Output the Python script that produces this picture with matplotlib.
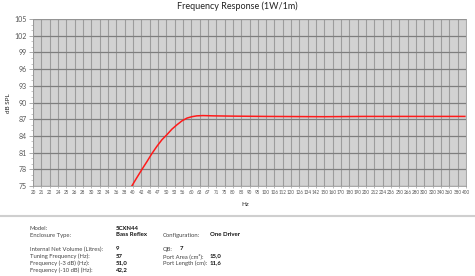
import numpy as np
import matplotlib
matplotlib.use("Agg")
import matplotlib.pyplot as plt
from matplotlib.ticker import FixedLocator, NullFormatter

plt.rcParams['font.family'] = ['Lato', 'DejaVu Sans']

# x tick labels (1/12 octave steps)
x_labels = ["20", "21", "22", "24", "25", "26", "28", "30", "32", "34",
            "36", "38", "40", "42", "45", "47", "50", "53", "56", "60",
            "63", "67", "71", "75", "80", "85", "90", "95", "100", "106",
            "112", "120", "126", "134", "142", "150", "160", "170", "180", "190",
            "200", "212", "224", "236", "250", "266", "280", "300", "320", "340",
            "360", "380", "400"]
y_ticks = [75, 78, 81, 84, 87, 90, 93, 96, 99, 102, 105]

# response curve (Hz, dB SPL)
freq = [38.0, 39.7, 41.1, 42.6, 44.1, 45.6, 47.2, 48.9, 50.6, 52.4, 54.3,
        56.2, 58.2, 60.2, 62.3, 65.0, 70.0, 80.0, 100.0, 150.0, 200.0, 280.0, 400.0]
spl = [73.4, 75.0, 76.5, 78.0, 79.4, 80.8, 82.1, 83.3, 84.2, 85.2, 86.0,
       86.7, 87.2, 87.45, 87.6, 87.65, 87.6, 87.55, 87.5, 87.45, 87.5, 87.5, 87.5]

# info block
info_left = [("Model:", "5CXN44"), ("Enclosure Type:", "Bass Reflex"), None,
             ("Internal Net Volume (Litres):", "9"),
             ("Tuning Frequency (Hz):", "57"),
             ("Frequency (-3 dB) (Hz):", "51,0"),
             ("Frequency (-10 dB) (Hz):", "42,2")]
info_right = [None, ("Configuration:", "One Driver"), None,
              ("QB:", "7"), ("Port Area (cm²):", "15,0"),
              ("Port Length (cm):", "11,6")]

W, H = 475, 276
fig = plt.figure(figsize=(W / 100, H / 100), dpi=100)
fig.patch.set_facecolor("white")
ax = fig.add_axes([33 / W, 1 - 186 / H, (466 - 33) / W, (186 - 19) / H])
ax.set_facecolor("#d2d2d2")

ax.set_xscale("log")
tick_pos = [20 * 2 ** (k / 12) for k in range(len(x_labels))]
ax.set_xlim(tick_pos[0], tick_pos[-1])
ax.set_ylim(75, 105)
ax.xaxis.set_major_locator(FixedLocator(tick_pos))
ax.xaxis.set_minor_locator(FixedLocator([]))
ax.xaxis.set_minor_formatter(NullFormatter())
ax.set_xticklabels(x_labels, fontsize=3.3, color="#555555")
ax.set_yticks(y_ticks)
ax.set_yticklabels([str(v) for v in y_ticks], fontsize=5, color="#555555")
ax.yaxis.set_minor_locator(FixedLocator(np.arange(75, 105.1, 1)))
ax.tick_params(axis="x", length=1.5, width=0.4, color="#888888", pad=1.5)
ax.tick_params(axis="y", which="major", length=3, width=0.5, color="#888888", pad=1.5)
ax.tick_params(axis="y", which="minor", length=1.5, width=0.4, color="#999999")

for xp in tick_pos:
    ax.axvline(xp, color="#9c9c9c", lw=0.8, zorder=1)
for yv in y_ticks:
    ax.axhline(yv, color="#7e7e7e", lw=0.9, zorder=1)
for s in ax.spines.values():
    s.set_color("#999999")
    s.set_linewidth(0.6)

ax.plot(freq, spl, color="#ff1a1a", lw=1.1, zorder=3, clip_on=True)

fig.text(237 / W, 1 - 6 / H, "Frequency Response (1W/1m)", ha="center", va="center",
         fontsize=6.5, color="#222222")
fig.text(8 / W, 1 - 103 / H, "dB SPL", rotation=90, ha="center", va="center",
         fontsize=4.5, color="#222222")
fig.text(245 / W, 1 - 205 / H, "Hz", ha="center", va="center", fontsize=4.5,
         color="#222222")

fig.add_artist(plt.Line2D([0, 1], [1 - 215.5 / H, 1 - 215.5 / H],
                          color="#cfcfcf", lw=1.5, transform=fig.transFigure))

rows_y = [228, 235, 242, 249, 256, 263, 270]
for i, item in enumerate(info_left):
    if item is None:
        continue
    lab, val = item
    y = 1 - rows_y[i] / H
    fig.text(30 / W, y, lab, fontsize=4.2, color="#444444", va="center")
    fig.text(116 / W, y, val, fontsize=4.3, color="#111111", va="center",
             fontweight="bold")
for i, item in enumerate(info_right):
    if item is None:
        continue
    lab, val = item
    y = 1 - rows_y[i] / H
    fig.text(163 / W, y, lab, fontsize=4.2, color="#444444", va="center")
    vx = 180 if lab == "QB:" else 210
    fig.text(vx / W, y, val, fontsize=4.3, color="#111111", va="center",
             fontweight="bold")

fig.savefig("out.png", dpi=100, facecolor="white")
